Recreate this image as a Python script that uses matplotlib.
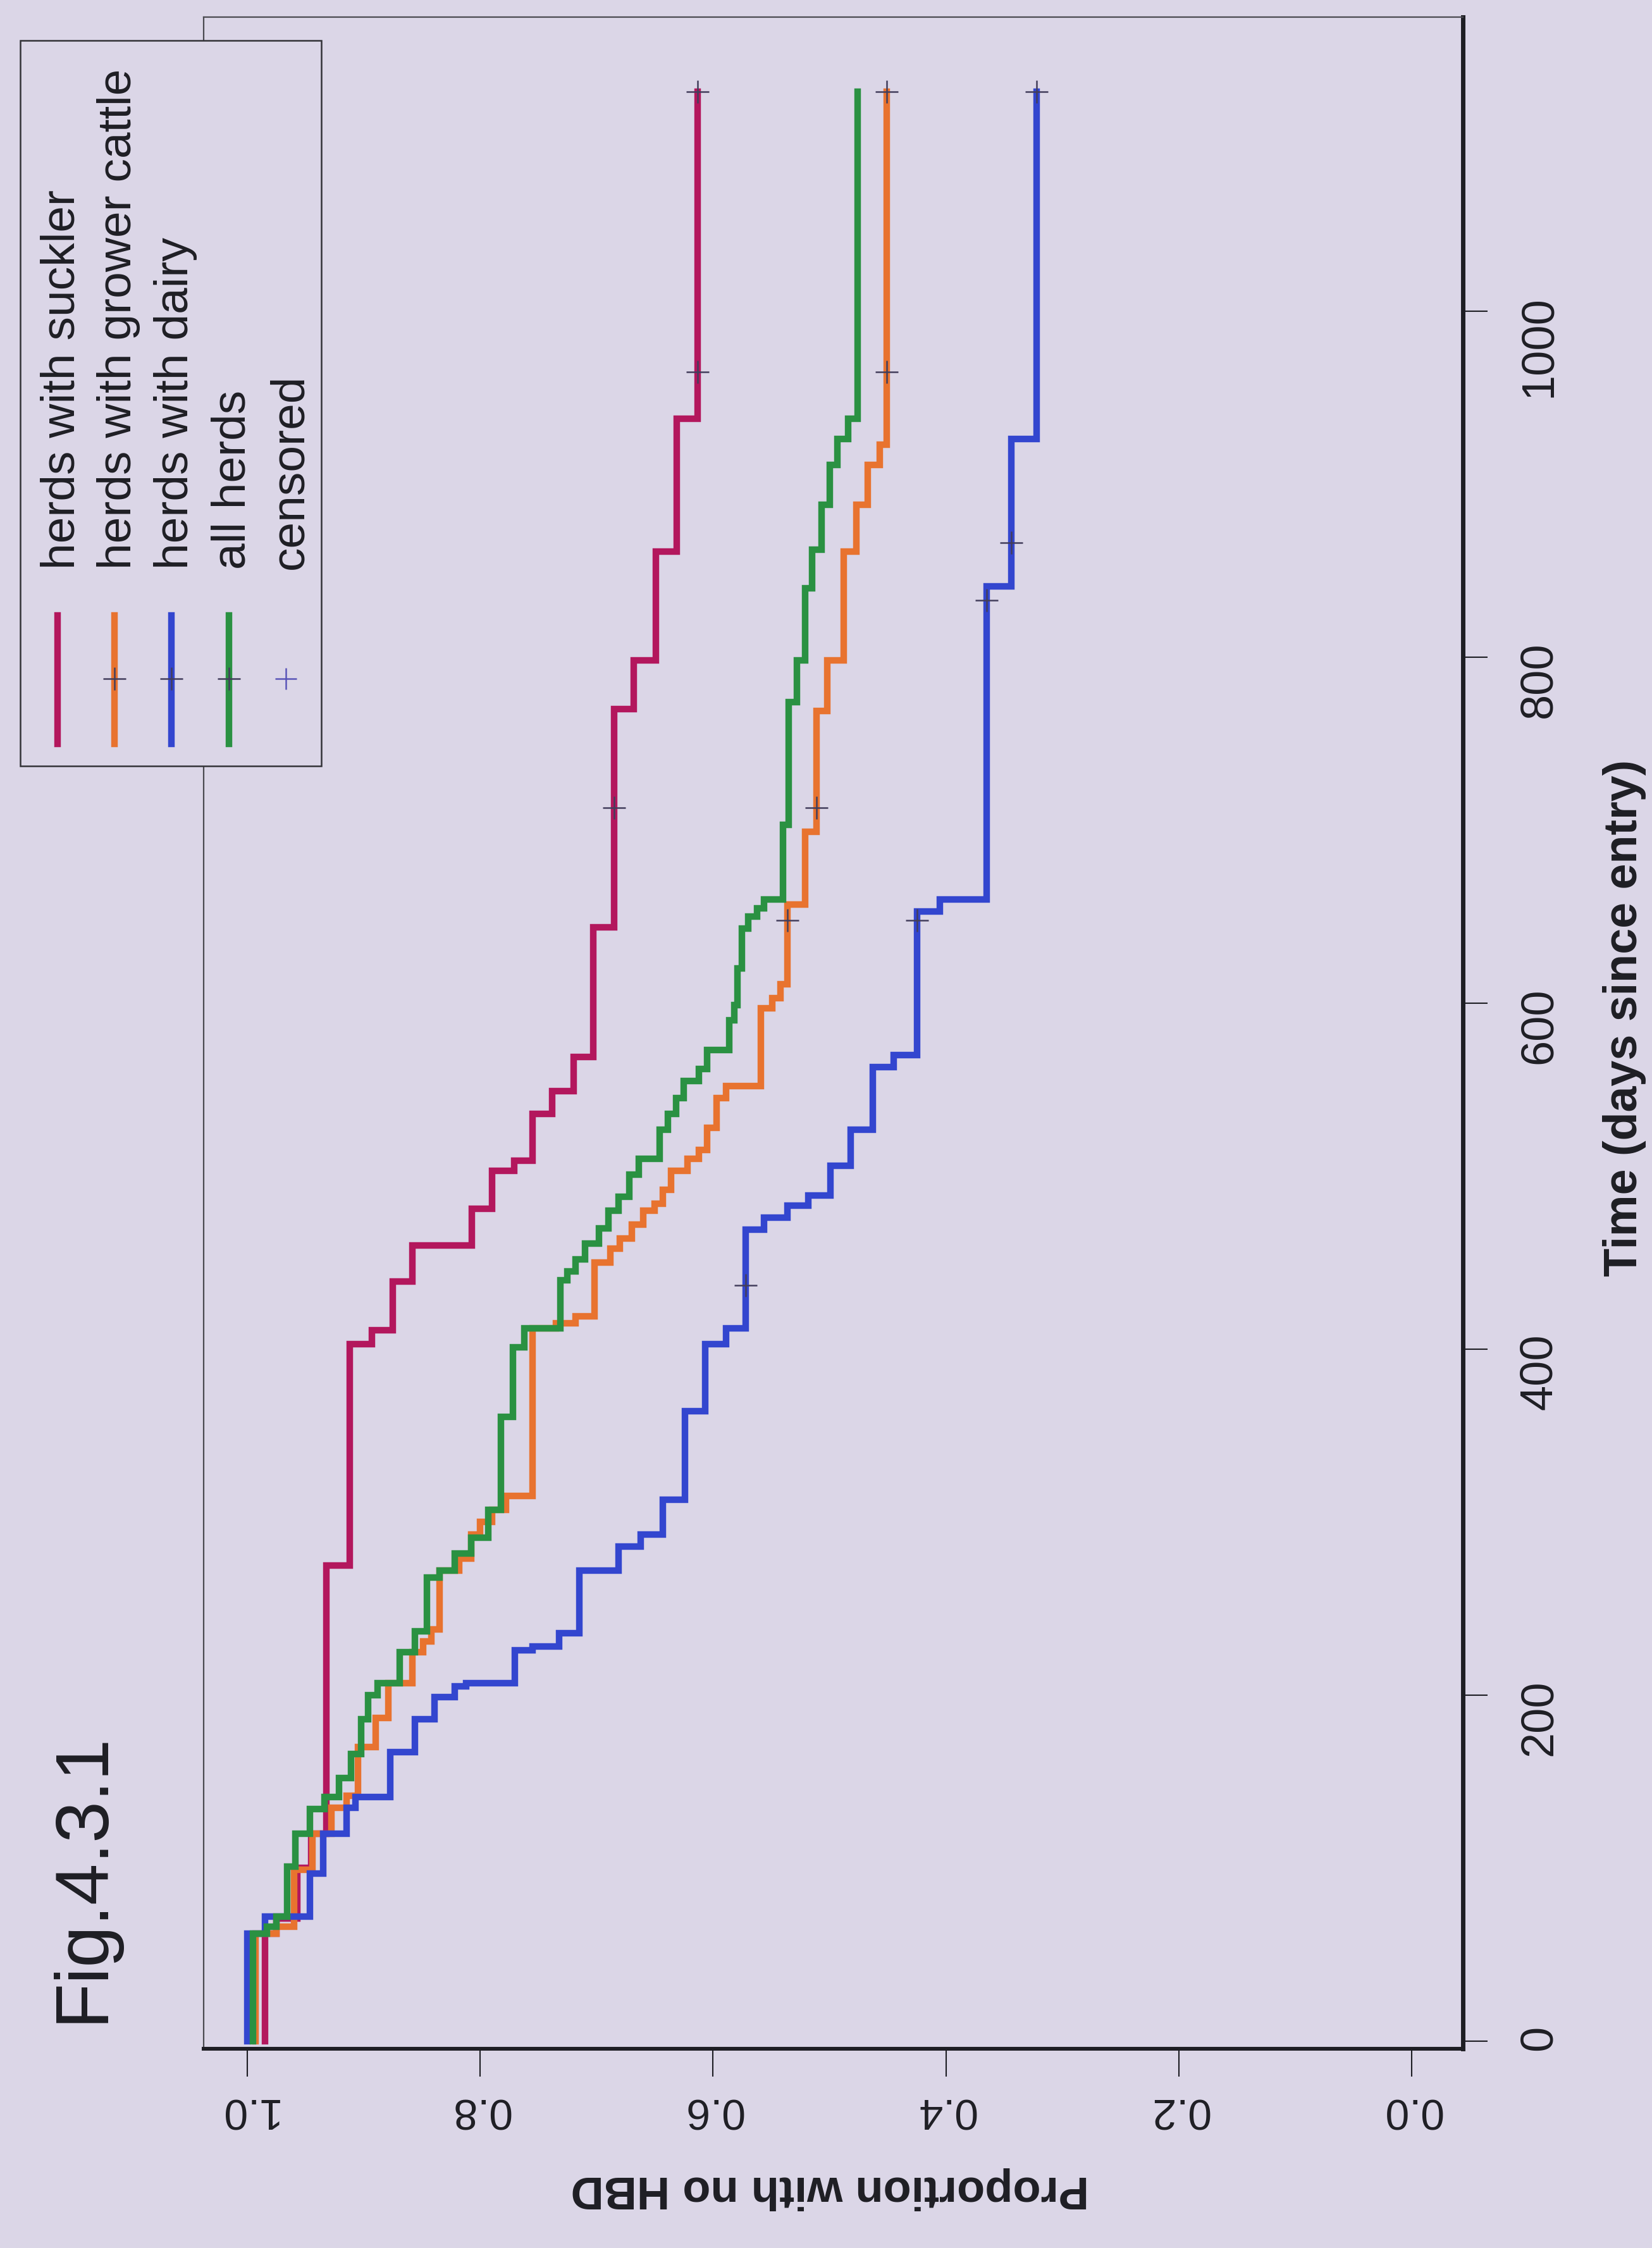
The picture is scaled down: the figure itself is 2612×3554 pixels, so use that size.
import numpy as np
import matplotlib.pyplot as plt
from matplotlib.lines import Line2D
from matplotlib.patches import Rectangle

plt.rcParams['font.family'] = ['Liberation Sans', 'DejaVu Sans']

W, H = 2612, 3555
BG = '#dbd6e7'
INK = '#1e1e24'

# Kaplan-Meier curves: day of each step and the proportion from that day on
suckler_t = [0, 62, 71, 100, 120, 275, 403, 411, 439, 460, 481, 503, 509,
             536, 549, 569, 644, 770, 798, 861, 938]
suckler_s = [0.985, 0.975, 0.957, 0.945, 0.932, 0.912, 0.893, 0.875, 0.858,
             0.807, 0.790, 0.771, 0.755, 0.738, 0.720, 0.703, 0.685, 0.668,
             0.649, 0.631, 0.613]
suckler_cens = [713, 965, 1127]

grower_t = [0, 62, 66, 99, 120, 135, 142, 170, 187, 207, 225, 231, 238, 272,
            279, 293, 300, 307, 315, 412, 415, 419, 450, 458, 464, 472, 480,
            484, 492, 503, 510, 515, 528, 545, 552, 597, 603, 611, 657, 699,
            769, 798, 861, 888, 911, 923]
grower_s = [0.993, 0.975, 0.960, 0.944, 0.928, 0.915, 0.905, 0.890, 0.879,
            0.858, 0.849, 0.842, 0.835, 0.818, 0.808, 0.800, 0.790, 0.778,
            0.755, 0.735, 0.718, 0.702, 0.688, 0.680, 0.670, 0.660, 0.650,
            0.643, 0.636, 0.622, 0.612, 0.605, 0.597, 0.589, 0.559, 0.549,
            0.542, 0.536, 0.521, 0.511, 0.502, 0.488, 0.477, 0.467, 0.457,
            0.451]
grower_cens = [648, 713, 965, 1127]

dairy_t = [0, 62, 72, 97, 120, 135, 141, 167, 186, 199, 205, 207, 226, 228,
           236, 272, 286, 293, 313, 364, 403, 412, 469, 476, 483, 489, 506,
           527, 563, 570, 653, 660, 841, 926]
dairy_s = [1.0, 0.985, 0.946, 0.935, 0.915, 0.907, 0.877, 0.856, 0.839,
           0.822, 0.812, 0.770, 0.755, 0.732, 0.715, 0.681, 0.662, 0.643,
           0.624, 0.607, 0.589, 0.572, 0.556, 0.536, 0.518, 0.499, 0.482,
           0.463, 0.445, 0.425, 0.405, 0.365, 0.344, 0.322]
dairy_cens = [437, 648, 833, 866, 1127]

all_t = [0, 62, 66, 72, 101, 120, 134, 141, 152, 166, 186, 200, 207, 225,
         237, 268, 272, 282, 291, 307, 361, 401, 412, 440, 445, 452, 461,
         470, 480, 488, 501, 510, 527, 536, 545, 555, 562, 573, 590, 599,
         620, 643, 650, 655, 660, 703, 774, 798, 840, 862, 888, 911, 926,
         938]
all_s = [0.995, 0.983, 0.975, 0.966, 0.959, 0.946, 0.934, 0.921, 0.911,
         0.902, 0.896, 0.888, 0.869, 0.856, 0.846, 0.835, 0.822, 0.808,
         0.793, 0.782, 0.772, 0.762, 0.731, 0.725, 0.718, 0.710, 0.698,
         0.690, 0.681, 0.672, 0.664, 0.646, 0.639, 0.632, 0.625, 0.612,
         0.605, 0.586, 0.582, 0.579, 0.575, 0.570, 0.562, 0.556, 0.540,
         0.535, 0.528, 0.521, 0.515, 0.507, 0.500, 0.493, 0.484, 0.476]
all_cens = []

t_end = 1127

legend_labels = ['herds with suckler', 'herds with grower cattle',
                 'herds with dairy', 'all herds', 'censored']

prop_ticks = [0.0, 0.2, 0.4, 0.6, 0.8, 1.0]
prop_labels = ['0.0', '0.2', '0.4', '0.6', '0.8', '1.0']
day_ticks = [0, 200, 400, 600, 800, 1000]
day_labels = ['0', '200', '400', '600', '800', '1000']

series = [
    (suckler_t, suckler_s, suckler_cens, '#b3175d'),
    (grower_t, grower_s, grower_cens, '#e8732f'),
    (dairy_t, dairy_s, dairy_cens, '#3346cf'),
    (all_t, all_s, all_cens, '#2a9142'),
]
cens_color = '#433e5c'
LW = 7.5


def px(x, y):
    """pixel position (from top left) -> figure fraction"""
    return x / W, 1 - y / H


def step_path(t, s):
    # time runs up the page, proportion across it
    t = np.append(np.asarray(t, float), t_end)
    s = np.asarray(s, float)
    xs = np.repeat(s, 2)
    ys = np.column_stack([t[:-1], t[1:]]).ravel()
    return xs, ys


fig = plt.figure(figsize=(W / 100, H / 100), dpi=100, facecolor=BG)
ax = fig.add_axes([322 / W, 1 - 3240 / H, (2313 - 322) / W, (3240 - 28) / H])
ax.set_facecolor(BG)

for t, s, cens, col in series:
    xs, ys = step_path(t, s)
    ax.plot(xs, ys, color=col, lw=LW, solid_joinstyle='miter', zorder=3)
    if cens:
        idx = np.searchsorted(t, cens, side='right') - 1
        ax.plot(np.asarray(s)[idx], cens, ls='none', marker='+', ms=26,
                mew=1.8, color=cens_color, zorder=4)

ax.set_xlim(1.0375, -0.044)
ax.set_ylim(-4.4, 1170)

ax.set_xticks(prop_ticks, labels=prop_labels)
ax.yaxis.tick_right()
ax.set_yticks(day_ticks, labels=day_labels)
ax.tick_params(axis='x', direction='out', length=32, width=1.5,
               labelsize=49, labelrotation=180, pad=14, colors=INK)
ax.tick_params(axis='y', direction='out', length=28, width=1.5,
               labelsize=52, labelrotation=90, pad=35, colors=INK)

for side in ('left', 'top'):
    ax.spines[side].set_linewidth(1.6)
    ax.spines[side].set_color('#4a4a50')
ax.spines['bottom'].set_linewidth(4.3)
ax.spines['right'].set_linewidth(5.0)
ax.spines['bottom'].set_color(INK)
ax.spines['right'].set_color(INK)

# axis titles, page is turned on its side
fig.text(*px(2588, 1609), 'Time (days since entry)', rotation=90,
         rotation_mode='anchor', ha='center', va='baseline',
         fontsize=53, fontweight='bold', color=INK)
fig.text(*px(1312, 3441), 'Proportion with no HBD', rotation=180,
         rotation_mode='anchor', ha='center', va='baseline',
         fontsize=52, fontweight='bold', color=INK)
fig.text(*px(162, 3198), 'Fig.4.3.1', rotation=90, rotation_mode='anchor',
         ha='left', va='baseline', fontsize=85, color=INK)

# legend, drawn by hand so it can stand rotated
x0, y0 = px(32, 1212)
x1, y1 = px(508, 65)
fig.add_artist(Rectangle((x0, y0), x1 - x0, y1 - y0, transform=fig.transFigure,
                         facecolor=BG, edgecolor='#333338', lw=1.8, zorder=5))
entry_x = [91, 181, 271, 362, 452]
for i, label in enumerate(legend_labels):
    ex = entry_x[i]
    if i < len(series):
        col = series[i][3]
        (lx, ly0), (_, ly1) = px(ex, 1177), px(ex, 974)
        fig.add_artist(Line2D([lx, lx], [ly0, ly1], transform=fig.transFigure,
                              color=col, lw=LW, zorder=6))
        if i > 0:
            fig.add_artist(Line2D([lx], [px(ex, 1074)[1]], transform=fig.transFigure,
                                  marker='+', ms=26, mew=1.8, color=cens_color,
                                  ls='none', zorder=7))
    else:
        fig.add_artist(Line2D([px(ex, 0)[0]], [px(ex, 1074)[1]],
                              transform=fig.transFigure, marker='+', ms=24,
                              mew=1.8, color='#5a55b8', ls='none', zorder=7))
    fig.text(*px(ex + 26, 900), label, rotation=90, rotation_mode='anchor',
             ha='left', va='baseline', fontsize=54, color=INK, zorder=7)

fig.savefig('out.png', dpi=100, facecolor=BG)
